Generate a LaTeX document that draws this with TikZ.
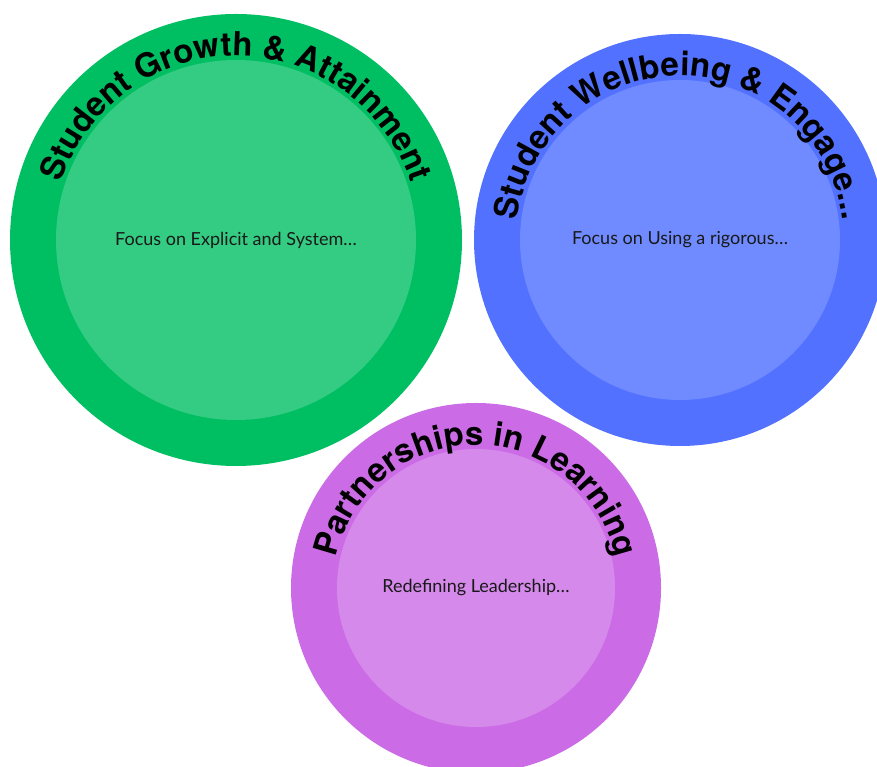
\documentclass[tikz,border=0pt]{standalone}
\usepackage{fontspec}
\setmainfont{Lato}
\newfontfamily\titlefont{TeX Gyre Heros}
\usepackage{tikz}
\usetikzlibrary{decorations.text}
\usepackage{xcolor}

\definecolor{growthOuter}{HTML}{00BF63}
\definecolor{growthInner}{HTML}{33CC82}
\definecolor{wellOuter}{HTML}{5271FF}
\definecolor{wellInner}{HTML}{6F8BFF}
\definecolor{partOuter}{HTML}{CB6CE6}
\definecolor{partInner}{HTML}{D589EA}

\tikzset{
    disc/.style={circle, inner sep=0pt, draw=none},
    body/.style={font=\fontsize{18}{20}\selectfont, text=black!90},
    title arc/.style={decorate, decoration={text along path, text align=center,
        text={|\titlefont\bfseries\fontsize{33}{33}\selectfont|#1}}}
}

\begin{document}
\begin{tikzpicture}[x=1pt, y=1pt]
\useasboundingbox (0,0) rectangle (877,767);

% Student growth
\node[disc, fill=growthOuter, minimum size=452pt] (growth) at (236,527) {};
\node[disc, fill=growthInner, minimum size=360pt] (growthin) at (growth.center) {};
\node[body] (growthtext) at (growth.center) {Focus on Explicit and System…};
\path[title arc={Student Growth {\&} Attainment}]
    (growth.center) ++(220:184pt) arc[start angle=220, end angle=-40, radius=184pt];

% Student wellbeing
\node[disc, fill=wellOuter, minimum size=412pt] (well) at (680,527) {};
\node[disc, fill=wellInner, minimum size=320pt] (wellin) at (well.center) {};
\node[body] (welltext) at (well.center) {Focus on Using a rigorous…};
\path[title arc={Student Wellbeing {\&} Engage...}]
    (well.center) ++(220:164pt) arc[start angle=220, end angle=-40, radius=164pt];

% Partnerships
\node[disc, fill=partOuter, minimum size=370pt] (part) at (476,179) {};
\node[disc, fill=partInner, minimum size=278pt] (partin) at (part.center) {};
\node[body] (parttext) at (part.center) {Redefining Leadership…};
\path[title arc={Partnerships in Learning}]
    (part.center) ++(220:143pt) arc[start angle=220, end angle=-40, radius=143pt];
\end{tikzpicture}
\end{document}
